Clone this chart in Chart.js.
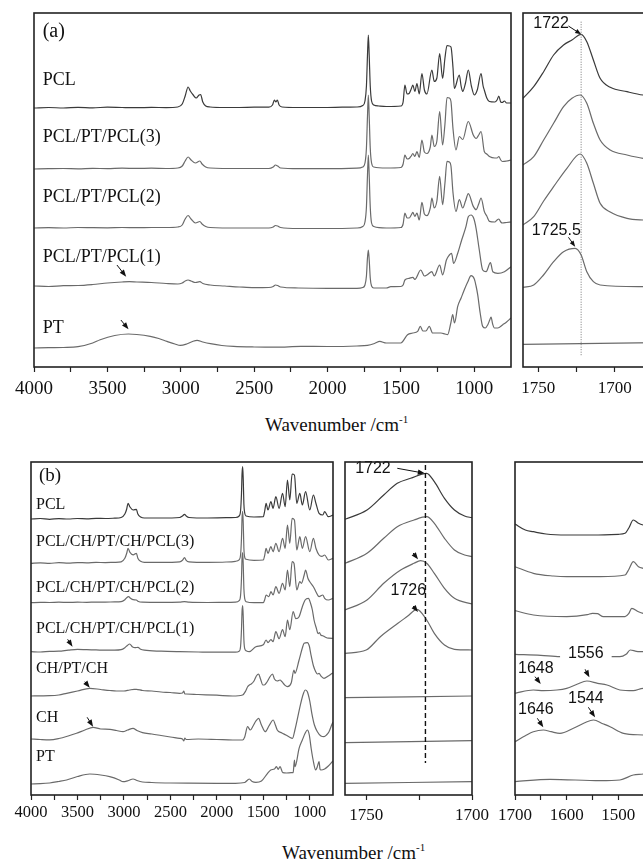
<!DOCTYPE html>
<html>
<head>
<meta charset="utf-8">
<script src="https://cdn.jsdelivr.net/npm/chart.js@4.4.1/dist/chart.umd.min.js"></script>
<style>
  html, body { margin: 0; padding: 0; background: #fff; overflow: hidden; }
  #fig { position: relative; width: 643px; height: 863px; overflow: hidden; }
  #fig canvas { position: absolute; }
  .xtitle { position: absolute; font-family: "Liberation Serif", "Times New Roman", serif; font-size: 19px; line-height: 19px; color: #111; white-space: nowrap; }
  .xtitle sup { font-size: 11px; vertical-align: 0; position: relative; top: -8px; }
</style>
</head>
<body>
<div id="fig">
  <div class="xtitle" style="left:265px; top:415px;">Wavenumber /cm<sup>-1</sup></div>
  <div class="xtitle" style="left:282px; top:843px;">Wavenumber /cm<sup>-1</sup></div>
</div>
<script>
// ---- panel (a): FTIR, wavenumber (cm-1) vs intensity above each trace baseline (a.u.) ----
const aNames = ['PCL', 'PCL/PT/PCL(3)', 'PCL/PT/PCL(2)', 'PCL/PT/PCL(1)', 'PT'];
const aOffsets = [259, 198, 139, 81, 19];
const aTicks = [4000, 3750, 3500, 3250, 3000, 2750, 2500, 2250, 2000, 1750, 1500, 1250, 1000];

const aPCL = [[4000,0],[3900,0.5],[3800,0],[3700,0.6],[3600,0.2],[3500,0.8],[3400,0.5],[3300,0.3],[3200,0.6],[3100,0.4],[3020,1],[2990,4],[2970,12],[2950,21],[2935,17],[2915,13],[2895,10],[2875,13],[2865,13.5],[2850,6],[2830,2],[2800,1],[2700,0.5],[2600,0.5],[2500,0.8],[2400,0.8],[2375,3],[2362,8],[2352,6],[2342,8],[2330,3],[2310,1],[2200,0.5],[2000,0.5],[1900,0.8],[1800,1],[1760,2.5],[1745,7],[1735,22],[1728,52],[1722,73],[1716,52],[1709,22],[1700,7],[1685,3],[1650,2],[1600,1.5],[1500,2],[1485,6],[1473,23],[1458,14],[1444,14.5],[1430,19],[1419,23],[1405,16.5],[1391,24.5],[1375,14],[1357,34.5],[1340,18],[1323,14],[1289,38],[1273,26.5],[1255,30],[1236,54.5],[1216,29.5],[1200,50],[1186,62.5],[1170,62],[1159,61],[1145,40],[1136,19.5],[1102,33],[1090,22],[1079,16.5],[1060,25],[1041,38],[1020,22],[1000,13],[980,18],[954,34.5],[940,22],[932,18],[915,10],[897,6.5],[860,6],[845,8],[833,12],[820,6],[810,5.5],[795,7],[780,5],[750,5]];
const aPCL3 = [[4000,0],[3900,0.3],[3800,0.5],[3700,0.2],[3600,0.6],[3500,0.4],[3400,0.8],[3300,0.6],[3200,0.8],[3100,0.5],[3020,1],[2990,3],[2970,8],[2950,12],[2930,9],[2900,6],[2870,8],[2855,5],[2830,2],[2800,1],[2600,0.5],[2400,0.5],[2370,2],[2355,4],[2340,3],[2320,1],[2200,0.3],[2000,0.3],[1800,0.8],[1760,2],[1745,6],[1735,21],[1728,52],[1722,74],[1716,52],[1709,21],[1700,6],[1685,2],[1600,1],[1500,1.5],[1485,5],[1473,14],[1458,10],[1444,10.5],[1430,13],[1419,15.5],[1405,12.5],[1391,17.5],[1375,11.5],[1357,29],[1340,17],[1323,15.5],[1300,22],[1289,34],[1273,22.5],[1255,28],[1236,57.5],[1216,24],[1200,45],[1186,71.5],[1170,71],[1159,67.5],[1145,40],[1125,19],[1102,32.5],[1079,29.5],[1041,47.5],[1007,34],[988,30.5],[970,34],[954,37.5],[932,17.5],[915,15],[897,12.5],[860,11],[845,11],[833,12.5],[820,9],[808,7.5],[780,8],[750,9]];
const aPCL2 = [[4000,0],[3900,0.3],[3800,0],[3700,0.5],[3600,0.3],[3500,0.2],[3400,0.5],[3300,0.3],[3200,0.5],[3100,0.5],[3020,1],[2990,3],[2970,9],[2950,12.5],[2930,9],[2900,5],[2870,6.5],[2855,4],[2830,1.5],[2800,0.5],[2600,0],[2400,0],[2370,1],[2355,2.5],[2340,2],[2320,0.5],[2200,-0.5],[2000,-0.5],[1800,0],[1760,1.5],[1745,6],[1735,21],[1728,52],[1722,73],[1716,52],[1709,21],[1700,5],[1685,1.5],[1600,0],[1500,0.5],[1485,4],[1473,15],[1458,10],[1444,10],[1430,13],[1419,15.6],[1405,11.6],[1391,15],[1375,8],[1357,25.6],[1340,14],[1323,12.3],[1300,20],[1289,30],[1273,20],[1255,27],[1236,51.6],[1216,23.3],[1200,45],[1186,66.6],[1170,66],[1159,62],[1145,35],[1125,16.6],[1102,28.3],[1079,20],[1060,27],[1041,34.3],[1007,21.6],[988,18.3],[970,24],[954,30],[932,16.6],[915,12],[897,6.6],[860,6],[845,8],[833,9],[820,6],[808,5],[780,5.5],[750,6]];
const aPCL1 = [[4000,0],[3900,-0.5],[3800,0.3],[3700,0.5],[3600,1.5],[3500,3],[3400,4],[3350,4.3],[3300,4],[3200,3.5],[3100,2.5],[3020,2],[2990,3],[2970,5],[2950,6],[2930,5],[2900,3.5],[2870,4.3],[2850,2.5],[2800,1],[2700,0],[2600,-1],[2500,-1.7],[2400,-1.5],[2370,-0.5],[2355,1],[2340,0.5],[2320,-1],[2200,-2],[2000,-2.3],[1800,-2.3],[1760,-1.5],[1745,1],[1735,10],[1728,28],[1722,36],[1716,26],[1709,8],[1700,0],[1685,-2],[1600,-2],[1569,-0.7],[1500,-0.5],[1485,1],[1473,6],[1444,7.7],[1419,8.7],[1405,6.7],[1365,16],[1340,10],[1323,11],[1289,14.3],[1273,10],[1236,21],[1216,11],[1190,26],[1170,31],[1155,32.7],[1141,22.7],[1113,32.7],[1086,46],[1057,59.3],[1041,69.3],[1022,71],[1004,67.7],[988,57.7],[966,36],[943,16],[920,14.3],[890,23.3],[874,14.3],[840,12.7],[795,14.3],[750,19.3]];
const aPT = [[4000,0],[3900,0.3],[3800,0.5],[3700,1.3],[3600,5],[3549,8.3],[3450,12.5],[3356,14],[3300,13.5],[3208,11.6],[3150,9.5],[3094,6.6],[3040,4],[3003,2.6],[2960,4],[2920,6.5],[2889,7.6],[2850,6],[2798,4.3],[2720,2.5],[2640,1.6],[2500,1],[2350,0.8],[2183,1.6],[2000,1.5],[1800,2],[1728,2.6],[1680,4.5],[1644,6.6],[1600,5],[1530,5],[1501,5],[1455,13.3],[1420,15],[1386,16.6],[1368,21.6],[1350,17],[1330,17],[1307,21.6],[1284,15],[1250,15],[1227,15],[1200,14],[1182,13.3],[1160,25],[1147,33.3],[1135,25],[1113,41.6],[1090,50],[1068,58.3],[1045,66],[1022,72.3],[1000,69],[988,62],[977,53.3],[960,35],[943,21.6],[925,20],[908,23.3],[895,28],[886,31],[875,24],[863,20],[840,20],[806,23.3],[780,26],[750,30]];

// inset of (a): C=O band
const aInsetOffsets = [268.7, 202, 142, 79.7, 22.7];
const aInsetTicks = [1750, 1725, 1700, 1675];
const aInPCL = [[1760,0],[1753,11.6],[1746.5,26.6],[1740,43.3],[1733.5,53.3],[1728,58.3],[1722,64],[1718.3,56.6],[1714,38.3],[1709.6,20],[1703,11],[1692,6.6],[1681.5,3.3],[1660,1.5]];
const aInPCL3 = [[1760,0],[1753,8.3],[1746.5,25],[1740,41.7],[1733.5,58.3],[1728,66.7],[1722.6,70],[1718.3,61.7],[1714,41.7],[1709.6,25],[1703,15],[1692,10],[1681.5,6.7],[1660,5]];
const aInPCL2 = [[1760,0],[1753,8.3],[1746.5,24],[1740,38.3],[1731.3,56.7],[1722.6,71],[1718.3,61.7],[1714,41.7],[1709.6,21.7],[1703,13],[1692,6.7],[1681.5,5],[1660,4]];
const aInPCL1 = [[1760,0],[1753,2.3],[1746.6,12.3],[1740,25.6],[1733.5,35.6],[1725.9,39],[1722,32.3],[1718.3,15.6],[1714,5.6],[1709.6,2.3],[1681.5,0.6],[1660,0.5]];
const aInPT = [[1760,0],[1660,2]];

// ---- panel (b) ----
const bNames = ['PCL', 'PCL/CH/PT/CH/PCL(3)', 'PCL/CH/PT/CH/PCL(2)', 'PCL/CH/PT/CH/PCL(1)', 'CH/PT/CH', 'CH', 'PT'];
const bOffsets = [276, 231.7, 192.3, 143.3, 99, 56, 11];
const bTicks = [4000, 3750, 3500, 3250, 3000, 2750, 2500, 2250, 2000, 1750, 1500, 1250, 1000];

const bPCL = [[4000,0],[3900,0.5],[3800,-0.3],[3700,0.4],[3600,0],[3500,0.5],[3400,0.2],[3300,0.6],[3200,0.5],[3100,0.8],[3030,1.5],[2990,5],[2970,10],[2956,15.7],[2935,12],[2900,9],[2866,9.7],[2850,5],[2820,2],[2780,1],[2600,1],[2400,1.5],[2370,3],[2348,4.7],[2330,3],[2300,1.5],[2100,1],[1900,1.3],[1800,1.5],[1760,3],[1745,8],[1735,25],[1729,45],[1722,52.3],[1716,40],[1709,15],[1700,6],[1685,3],[1600,2],[1500,2.3],[1485,8],[1470,15.7],[1450,9],[1418,17.3],[1395,10.7],[1365,22.3],[1330,10.7],[1293,25.7],[1265,12.3],[1240,39],[1215,19],[1190,45],[1165,44],[1140,15.7],[1107,25.7],[1080,14],[1045,27.3],[1000,9],[961,24],[934,15.7],[900,5.7],[860,4],[840,7.3],[800,2.3],[750,4]];
const bPCL3 = [[4000,0],[3900,0.5],[3800,0],[3700,0.6],[3600,0.2],[3500,0.7],[3400,0.5],[3300,0.9],[3200,0.7],[3100,1],[3030,1.5],[2990,5],[2970,10],[2956,15],[2935,11],[2900,8.5],[2866,10],[2850,5],[2820,2],[2780,1],[2600,1],[2400,1.5],[2370,3],[2348,5.6],[2330,3],[2300,1.5],[2100,1],[1900,1.3],[1800,2],[1760,3.5],[1745,8],[1735,25],[1729,45],[1722,52],[1716,40],[1709,15],[1700,6],[1685,4],[1600,3],[1500,3.3],[1485,8],[1470,15],[1450,10],[1418,16.6],[1395,11.6],[1365,20],[1330,11.6],[1293,25],[1265,15],[1240,38.3],[1215,20],[1190,45],[1165,43.3],[1140,13.3],[1107,26.6],[1080,15],[1045,26.6],[1000,11.6],[961,25],[934,15],[900,8.3],[870,7],[840,8.3],[800,3.3],[750,5]];
const bPCL2 = [[4000,0],[3900,0.3],[3800,0.2],[3700,0.5],[3600,0.3],[3500,0.5],[3400,0.4],[3300,0.6],[3200,0.6],[3100,0.8],[3030,1],[2990,3],[2970,5],[2950,6],[2930,4.5],[2900,3],[2866,2.7],[2850,1.5],[2800,0.5],[2600,0.3],[2400,0.5],[2350,1],[2300,0.5],[2100,0.2],[1900,0.3],[1800,0.5],[1760,2],[1745,7],[1735,24],[1729,44],[1722,50],[1716,38],[1709,14],[1700,4],[1685,1],[1600,0],[1500,0],[1485,3],[1470,7.7],[1440,6],[1418,11],[1395,7.7],[1365,16],[1330,9.4],[1293,19.4],[1265,12.7],[1240,32.7],[1215,16],[1190,41],[1170,39.4],[1140,12.7],[1107,21],[1090,19.4],[1060,27.7],[1045,32.7],[1020,24.4],[1000,21],[961,16],[934,11],[900,6],[860,7.7],[840,4.4],[800,2.7],[750,4.4]];
const bPCL1 = [[4000,0],[3900,-0.3],[3800,0.3],[3700,0.5],[3600,1.5],[3500,2.3],[3400,2],[3300,1.8],[3200,1.5],[3100,1.5],[3030,2],[2990,4],[2960,6.5],[2938,7.7],[2910,5],[2880,4],[2849,4.4],[2820,2.5],[2780,1.5],[2600,0.5],[2400,0],[2200,-0.3],[2000,-0.5],[1800,-0.5],[1760,0.5],[1745,5],[1735,22],[1729,40],[1722,46],[1716,35],[1709,12],[1700,3],[1685,1],[1650,0],[1580,5],[1500,7],[1470,11.7],[1450,9],[1418,12],[1395,10],[1365,20],[1330,13],[1293,22],[1265,15],[1240,31.7],[1215,22],[1179,40],[1150,33],[1115,35],[1080,45],[1050,51.7],[1015,53.4],[990,48],[972,41.7],[954,31.7],[929,23.4],[910,18],[895,19],[882,16.7],[860,16],[840,15],[800,13.5],[757,13.4],[750,13.5]];
const bCPC = [[4000,0],[3900,0.2],[3800,0.3],[3700,1],[3617,2.7],[3500,5],[3367,7.7],[3250,6.5],[3150,5.5],[3081,5],[3000,5],[2940,6],[2890,6.7],[2866,6.7],[2800,5.5],[2700,5],[2600,4],[2500,3.5],[2402,2.7],[2370,3],[2355,5],[2345,2],[2330,2],[2200,1.5],[2000,0.8],[1830,0],[1723,1],[1690,5],[1669,9.3],[1650,11],[1630,12],[1600,15],[1575,20],[1551,22],[1530,17],[1505,11],[1490,11],[1460,14],[1430,19],[1401,22],[1380,17],[1350,15],[1320,16],[1300,14.3],[1270,11],[1240,9.3],[1200,13],[1170,26],[1160,22.7],[1115,36],[1080,48],[1061,52.7],[1026,53.4],[1005,50],[990,42.7],[960,30],[936,24.3],[918,22],[900,22.7],[880,20],[847,17.7],[800,20],[757,22.7],[750,23]];
const bCH = [[4000,0],[3900,-0.5],[3800,-0.8],[3700,0.5],[3600,3],[3510,5.7],[3420,9],[3332,11.7],[3250,10],[3150,9.7],[3080,8.5],[3010,7.3],[2960,9],[2902,10.7],[2860,8.5],[2800,6.3],[2700,5],[2600,3.5],[2500,2],[2402,0.7],[2370,0],[2355,-2],[2345,1],[2330,-0.5],[2200,0],[2000,-0.5],[1830,-1],[1723,-1],[1700,2],[1669,12.3],[1640,9],[1610,13],[1580,18],[1551,20.7],[1520,14],[1479,7.3],[1440,13],[1393,19],[1370,14],[1350,9],[1300,6],[1258,4],[1220,2],[1186,0.7],[1160,9],[1097,35.7],[1070,45],[1050,49],[1026,47.3],[1000,38],[978,25.7],[950,14],[918,7.3],[880,3],[847,2.3],[820,4],[793,7.3],[760,15],[750,17]];
const bPT = [[4000,0],[3900,0.3],[3800,1],[3700,2.5],[3617,4],[3500,7.5],[3367,10],[3250,9],[3153,7.3],[3050,4],[3010,2.3],[2950,3.5],[2902,5],[2860,3.5],[2800,2],[2700,1.5],[2500,1],[2300,0.8],[2000,0.7],[1800,0.7],[1700,1.5],[1651,5],[1620,2.5],[1580,1.7],[1520,3],[1454,10.7],[1420,14],[1380,15],[1358,17.3],[1340,14.7],[1320,17.3],[1290,11.3],[1250,11],[1200,11.3],[1179,11.3],[1165,24],[1158,17.3],[1115,35.7],[1080,44],[1050,50.7],[1026,54],[1005,49],[984,35],[964,24],[936,14],[920,17],[900,22.3],[890,15],[880,14],[840,15],[800,18],[757,22.3],[750,23]];

// (b) middle panel: C=O band
const bMidOffsets = [274.7, 230.7, 184, 140.7, 96.3, 51.3, 10.7];
const bMidTicks = [1750, 1725, 1700];
const bMidPCL = [[1760,0],[1749.6,9.3],[1741.7,24.3],[1735.3,36],[1729,41],[1721.4,46],[1717.8,37.6],[1713,21],[1708.3,9.3],[1703.5,3.3],[1700,1.6]];
const bMidPCL3 = [[1760,0],[1749.6,10],[1741.7,25],[1735.3,36.6],[1727.4,43.3],[1721.4,46.6],[1717.8,40],[1713,25],[1708.3,13.3],[1703.5,8.3],[1700,6.6]];
const bMidPCL2 = [[1760,0],[1749.6,10],[1741.7,26.7],[1733.7,40],[1727.4,46.7],[1724.3,49.3],[1721.4,46.7],[1717.8,36.7],[1713,21.7],[1708.3,11.7],[1700,6]];
const bMidPCL1 = [[1760,0],[1750,3.3],[1743.3,16.6],[1735,30],[1730.5,37],[1726,44],[1721.4,33.3],[1717.8,20],[1713,8.3],[1708.3,4],[1700,3.3]];
const bMidCPC = [[1760,0],[1700,1.7]];
const bMidCH = [[1760,0],[1700,2]];
const bMidPT = [[1760,0],[1700,1.6]];

// (b) right panel: amide region
const bRightOffsets = [270, 227.3, 183.3, 139.7, 100.7, 52.3, 12.3];
const bRightTicks = [1700, 1650, 1600, 1550, 1500, 1450, 1400];
const bRPCL = [[1700,0],[1680,-6],[1664.5,-7.7],[1640,-10],[1600,-11],[1550,-11],[1500,-10.3],[1487,-9.3],[1480,-4.3],[1471,4],[1461,0.7],[1452,-1],[1440,-2],[1418,2],[1400,-3]];
const bRPCL3 = [[1700,0],[1664.5,-6.6],[1626,-9.3],[1600,-10],[1535,-10],[1487,-8.3],[1480,-3],[1471,5],[1461,0],[1452,-1.6],[1430,-3],[1418,1],[1400,-3]];
const bRPCL2 = [[1700,0],[1664.5,-4.3],[1600,-6],[1560,-4],[1550,-2.6],[1540,-3],[1529,-6],[1487,-6],[1480,-3],[1474,2.4],[1461,-1],[1452,-2.6],[1430,-4],[1418,0],[1400,-4]];
const bRPCL1 = [[1700,0],[1650,-1],[1613,-2.4],[1560,-2.4],[1497,-2.4],[1485,0],[1477,4.3],[1465,3],[1452,2.6],[1430,1],[1400,0]];
const bRCPC = [[1700,0],[1664.5,3.3],[1645,2.6],[1619,3.3],[1600,5],[1580,9],[1561,12.3],[1540,10],[1522,8.3],[1497,3.3],[1471,2.6],[1452,5],[1430,4],[1400,5]];
const bRCH = [[1700,0],[1680,6],[1664.5,10],[1645,11.7],[1630,10],[1613,8.4],[1587,13.4],[1565,19],[1548,21.7],[1530,18],[1516,15],[1490,8.4],[1452,6.7],[1430,6],[1400,7]];
const bRPT = [[1700,0],[1632,2.4],[1535,1],[1497,1.7],[1471,6.7],[1452,7.7],[1430,10],[1400,13]];

const SERIF = '"Liberation Serif", "Times New Roman", serif';
const SANS = '"Liberation Sans", Arial, sans-serif';
const PAD_L = 25, PAD_R = 30, PAD_T = 5, AXIS_H = 38, PAD_B = 2;

Chart.defaults.font.family = SERIF;

function trace(points, offset) {
    return points.map(p => ({ x: p[0], y: p[1] + offset }));
}

function drawArrow(ctx, x1, y1, x2, y2, head) {
    const ang = Math.atan2(y2 - y1, x2 - x1);
    const c = Math.cos(ang), s = Math.sin(ang);
    ctx.beginPath();
    ctx.moveTo(x1, y1);
    ctx.lineTo(x2 - c * head * 0.8, y2 - s * head * 0.8);
    ctx.stroke();
    ctx.beginPath();
    ctx.moveTo(x2, y2);
    ctx.lineTo(x2 - head * c + head * 0.38 * s, y2 - head * s - head * 0.38 * c);
    ctx.lineTo(x2 - head * c - head * 0.38 * s, y2 - head * s + head * 0.38 * c);
    ctx.closePath();
    ctx.fill();
}

// frame, labels, arrows and reference lines, placed in data coordinates
const panelDecor = {
    id: 'panelDecor',
    afterDatasetsDraw(chart, args, opts) {
        const { ctx, chartArea: ca, scales: { x, y } } = chart;
        ctx.save();
        (opts.vlines || []).forEach(v => {
            ctx.strokeStyle = v.color;
            ctx.lineWidth = v.width;
            ctx.setLineDash(v.dash);
            ctx.beginPath();
            ctx.moveTo(x.getPixelForValue(v.x), y.getPixelForValue(v.y1));
            ctx.lineTo(x.getPixelForValue(v.x), y.getPixelForValue(v.y2));
            ctx.stroke();
        });
        ctx.setLineDash([]);
        (opts.texts || []).forEach(t => {
            ctx.font = t.font;
            ctx.textAlign = 'left';
            ctx.textBaseline = 'middle';
            const px = x.getPixelForValue(t.x), py = y.getPixelForValue(t.y);
            if (t.bg) {
                const w = ctx.measureText(t.text).width;
                ctx.fillStyle = '#fff';
                ctx.fillRect(px - t.bg, py - 8, w + 2 * t.bg, 16);
            }
            ctx.fillStyle = '#111';
            ctx.fillText(t.text, px, py);
        });
        ctx.strokeStyle = '#111';
        ctx.fillStyle = '#111';
        ctx.lineWidth = 1;
        (opts.arrows || []).forEach(a => {
            drawArrow(ctx, x.getPixelForValue(a[0]), y.getPixelForValue(a[1]),
                x.getPixelForValue(a[2]), y.getPixelForValue(a[3]), a[4] || 7);
        });
        ctx.strokeStyle = '#222';
        ctx.lineWidth = 1.6;
        ctx.strokeRect(ca.left, ca.top, ca.right - ca.left, ca.bottom - ca.top);
        ctx.restore();
    }
};

function makePanel(p) {
    const canvas = document.createElement('canvas');
    canvas.width = p.plotW + PAD_L + PAD_R;
    canvas.height = PAD_T + p.plotH + AXIS_H + PAD_B;
    canvas.style.left = (p.left - PAD_L) + 'px';
    canvas.style.top = (p.top - PAD_T) + 'px';
    document.getElementById('fig').appendChild(canvas);

    const datasets = p.series.map((s, i) => ({
        data: trace(s, p.offsets[i]),
        borderColor: i === 0 ? '#3a3a3a' : '#6a6a6a',
        borderWidth: 1.2,
        pointRadius: 0,
        cubicInterpolationMode: 'monotone',
        fill: false,
    }));

    new Chart(canvas.getContext('2d'), {
        type: 'line',
        data: { datasets },
        plugins: [panelDecor],
        options: {
            responsive: false,
            animation: false,
            events: [],
            layout: { padding: { left: PAD_L, right: PAD_R, top: PAD_T, bottom: PAD_B } },
            plugins: {
                legend: { display: false },
                tooltip: { enabled: false },
                panelDecor: p.decor,
            },
            scales: {
                x: {
                    type: 'linear',
                    reverse: true,
                    min: p.xMin,
                    max: p.xMax,
                    afterBuildTicks: (scale) => { scale.ticks = p.ticks.map(v => ({ value: v })); },
                    afterFit: (scale) => { scale.height = AXIS_H; },
                    border: { display: false },
                    grid: { display: true, drawOnChartArea: false, drawTicks: true, tickLength: 5, color: '#222', tickWidth: 1.2 },
                    ticks: {
                        autoSkip: false,
                        maxRotation: 0,
                        minRotation: 0,
                        padding: p.tickPad,
                        color: '#111',
                        font: { family: SERIF, size: p.tickFont },
                        callback: (v) => (v % p.labelStep === 0 ? String(v) : ''),
                    },
                },
                y: { display: false, min: p.yMin, max: p.yMax },
            },
        },
    });
}

const serifLabel = (size) => size + 'px ' + SERIF;
const numFont = '16px ' + SANS;

// (a) main
makePanel({
    left: 34, top: 13, plotW: 477, plotH: 354, xMin: 750, xMax: 4000, yMin: 0, yMax: 354,
    ticks: aTicks, labelStep: 500, tickFont: 19, tickPad: 6,
    series: [aPCL, aPCL3, aPCL2, aPCL1, aPT], offsets: aOffsets,
    decor: {
        texts: [
            { x: 3941, y: 335, text: '(a)', font: serifLabel(20) },
            { x: 3941, y: 287, text: aNames[0], font: serifLabel(18) },
            { x: 3941, y: 229.5, text: aNames[1], font: serifLabel(18) },
            { x: 3941, y: 169.5, text: aNames[2], font: serifLabel(18) },
            { x: 3941, y: 109.5, text: aNames[3], font: serifLabel(18) },
            { x: 3941, y: 39, text: aNames[4], font: serifLabel(18) },
        ],
        arrows: [[3435, 102, 3372, 90.3], [3408, 47, 3356, 37.7]],
    },
});

// (a) inset
makePanel({
    left: 523, top: 13, plotW: 153, plotH: 354, xMin: 1660, xMax: 1760, yMin: 0, yMax: 354,
    ticks: aInsetTicks, labelStep: 50, tickFont: 17, tickPad: 6,
    series: [aInPCL, aInPCL3, aInPCL2, aInPCL1, aInPT], offsets: aInsetOffsets,
    decor: {
        vlines: [{ x: 1722, y1: 345.3, y2: 10.3, dash: [1, 1.5], color: '#777', width: 1 }],
        texts: [
            { x: 1753.3, y: 343, text: '1722', font: numFont },
            { x: 1754.2, y: 136.2, text: '1725.5', font: numFont },
        ],
        arrows: [[1730.3, 341, 1722, 332.7, 6], [1730.3, 129.7, 1725.9, 120.3, 6]],
    },
});

// (b) main
makePanel({
    left: 31, top: 462, plotW: 302, plotH: 333, xMin: 750, xMax: 4000, yMin: 0, yMax: 333,
    ticks: bTicks, labelStep: 500, tickFont: 16.5, tickPad: 3,
    series: [bPCL, bPCL3, bPCL2, bPCL1, bCPC, bCH, bPT], offsets: bOffsets,
    decor: {
        texts: [
            { x: 3914, y: 319.3, text: '(b)', font: serifLabel(19) },
            { x: 3946, y: 290, text: bNames[0], font: serifLabel(16) },
            { x: 3946, y: 253.5, text: bNames[1], font: serifLabel(16) },
            { x: 3946, y: 207.5, text: bNames[2], font: serifLabel(16) },
            { x: 3946, y: 166, text: bNames[3], font: serifLabel(16) },
            { x: 3946, y: 126.7, text: bNames[4], font: serifLabel(16) },
            { x: 3946, y: 77.5, text: bNames[5], font: serifLabel(16) },
            { x: 3946, y: 38.3, text: bNames[6], font: serifLabel(16) },
        ],
        arrows: [[3606, 155.7, 3553, 148.3, 7], [3421, 113.3, 3367, 107.3, 7], [3396, 77.7, 3332, 68.3, 7]],
    },
});

// (b) middle
makePanel({
    left: 345, top: 462, plotW: 127, plotH: 333, xMin: 1700, xMax: 1760, yMin: -1, yMax: 332,
    ticks: bMidTicks, labelStep: 50, tickFont: 17, tickPad: 5,
    series: [bMidPCL, bMidPCL3, bMidPCL2, bMidPCL1, bMidCPC, bMidCH, bMidPT], offsets: bMidOffsets,
    decor: {
        vlines: [{ x: 1722, y1: 329, y2: 31, dash: [5, 3], color: '#111', width: 1.4 }],
        texts: [
            { x: 1755.2, y: 325, text: '1722', font: numFont },
            { x: 1738.5, y: 203.2, text: '1726', font: numFont },
        ],
        arrows: [[1735.3, 325.7, 1722.3, 320.7, 7], [1727.8, 241, 1725.5, 234.7, 7], [1727.8, 188, 1725.5, 182, 7]],
    },
});

// (b) right
makePanel({
    left: 515, top: 462, plotW: 155, plotH: 333, xMin: 1400, xMax: 1700, yMin: -1, yMax: 332,
    ticks: bRightTicks, labelStep: 100, tickFont: 17, tickPad: 5,
    series: [bRPCL, bRPCL3, bRPCL2, bRPCL1, bRCPC, bRCH, bRPT], offsets: bRightOffsets,
    decor: {
        texts: [
            { x: 1597.3, y: 140.7, text: '1556', font: numFont, bg: 8 },
            { x: 1694.2, y: 125.7, text: '1648', font: numFont },
            { x: 1597.3, y: 95.7, text: '1544', font: numFont },
            { x: 1694.2, y: 84, text: '1646', font: numFont },
        ],
        arrows: [[1564.3, 124.7, 1556, 116.7, 7], [1661.2, 117.3, 1650.2, 110, 7], [1558, 86.7, 1545, 76.7, 7], [1656.8, 75.7, 1645.2, 66.7, 7]],
    },
});
</script>
</body>
</html>
